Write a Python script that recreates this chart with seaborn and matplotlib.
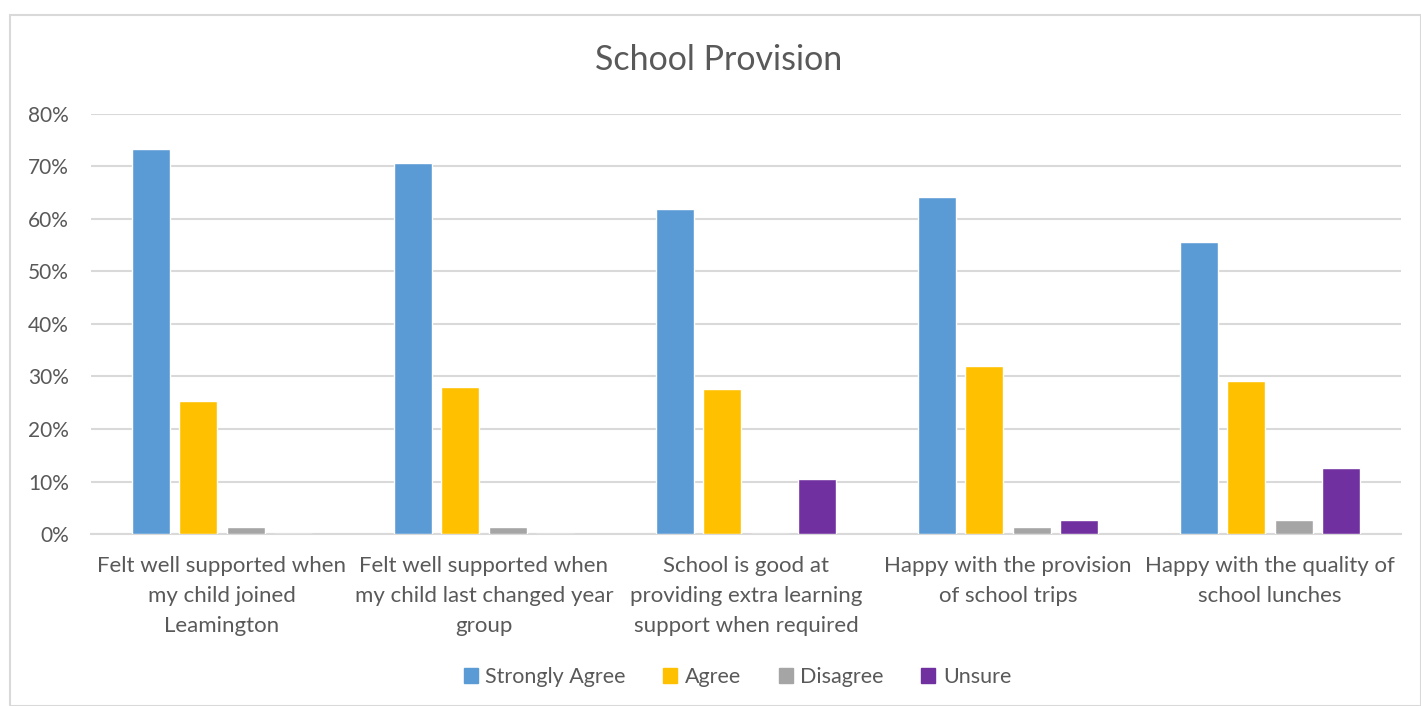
import pandas as pd
import matplotlib.pyplot as plt
import matplotlib.patches as mpatches
import seaborn as sns

categorias = [
    "Felt well supported when\nmy child joined\nLeamington",
    "Felt well supported when\nmy child last changed year\ngroup",
    "School is good at\nproviding extra learning\nsupport when required",
    "Happy with the provision\nof school trips",
    "Happy with the quality of\nschool lunches",
]
respostas = ["Strongly Agree", "Agree", "Disagree", "Unsure"]
strongly_agree = [0.733, 0.707, 0.619, 0.642, 0.556]
agree = [0.253, 0.280, 0.276, 0.320, 0.291]
disagree = [0.013, 0.013, 0.0, 0.013, 0.027]
unsure = [0.0, 0.0, 0.105, 0.026, 0.126]
cores = ["#5B9BD5", "#FFC000", "#A5A5A5", "#7030A0"]

df = pd.DataFrame({
    "categoria": categorias * 4,
    "resposta": [r for r in respostas for _ in categorias],
    "valor": strongly_agree + agree + disagree + unsure,
})

sns.set_style("white")
plt.rcParams["font.family"] = ["Lato", "DejaVu Sans"]
texto = "#595959"

fig = plt.figure(figsize=(14.21, 7.06), dpi=100)
ax = fig.add_axes([0.064, 0.2436, 0.922, 0.595])

sns.barplot(data=df, x="categoria", y="valor", hue="resposta", order=categorias,
            hue_order=respostas, palette=cores, width=0.725, gap=0.2,
            saturation=1, legend=False, ax=ax, zorder=3)

ax.set_ylim(0, 0.8)
ax.set_xlim(-0.5, 4.5)
ax.set_yticks([i / 10 for i in range(9)])
ax.set_yticklabels([f"{i * 10}%" for i in range(9)])
ax.yaxis.grid(True, color="#D9D9D9", linewidth=1.5, zorder=0)
ax.set_xlabel("")
ax.set_ylabel("")
for s in ["top", "right", "left"]:
    ax.spines[s].set_visible(False)
ax.spines["bottom"].set_color("#D9D9D9")
ax.spines["bottom"].set_linewidth(1.5)
ax.tick_params(axis="both", length=0, colors=texto)
ax.tick_params(axis="y", pad=16, labelsize=15)
ax.tick_params(axis="x", pad=16, labelsize=16)
for lbl in ax.get_xticklabels():
    lbl.set_linespacing(1.62)

fig.text(0.506, 0.915, "School Provision", ha="center", va="center",
         fontsize=24.5, color=texto)

handles = [mpatches.Patch(color=c, label=r) for c, r in zip(cores, respostas)]
fig.legend(handles=handles, loc="center", bbox_to_anchor=(0.519, 0.041), ncol=4,
           frameon=False, fontsize=15.5, labelcolor=texto, handlelength=0.65,
           handleheight=0.65, handletextpad=0.35, columnspacing=1.75)

# moldura do gráfico
fig.patches.append(mpatches.Rectangle((0.007, 0.0), 0.993, 0.979, transform=fig.transFigure,
                                      fill=False, edgecolor="#D9D9D9", linewidth=1.5))

plt.savefig("out.png", dpi=100)
plt.close()
